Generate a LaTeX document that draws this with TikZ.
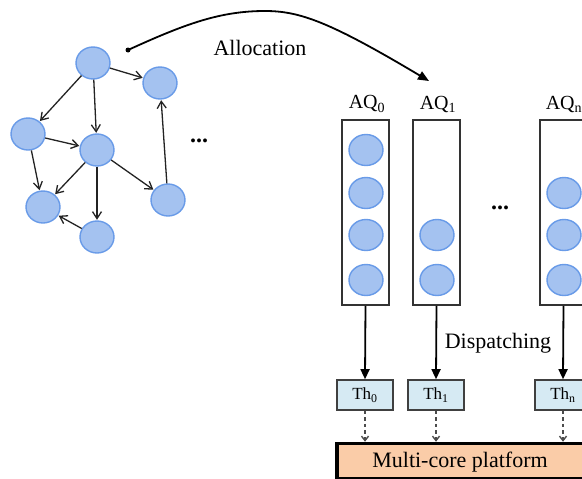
\documentclass[tikz,border=0pt]{standalone}
\usepackage{fontspec}
\setmainfont{Liberation Serif}
\usetikzlibrary{arrows.meta,shapes.geometric}
\definecolor{bubfill}{RGB}{164,194,240}
\definecolor{bubdraw}{RGB}{105,155,232}
\definecolor{thfill}{RGB}{214,234,243}
\definecolor{platfill}{RGB}{250,204,168}
\definecolor{edgecol}{RGB}{35,35,35}
\tikzset{
  bub/.style={ellipse,fill=bubfill,draw=bubdraw,line width=1.4pt,minimum width=34pt,minimum height=32pt,inner sep=0pt},
  qbub/.style={bub,minimum height=31pt},
  gedge/.style={draw=edgecol,line width=1.3pt,-{Straight Barb[length=7pt,width=9pt]},shorten >=0.5pt},
  queue/.style={draw=black!80,line width=1.8pt,minimum width=47pt,minimum height=185pt,inner sep=0pt},
  thbox/.style={draw=black!75,fill=thfill,line width=1.6pt,minimum width=56pt,minimum height=30pt,inner sep=0pt,font=\fontsize{17}{20}\selectfont},
  lbl/.style={font=\fontsize{22}{26}\selectfont,inner sep=0pt},
  aqlbl/.style={font=\fontsize{20}{24}\selectfont,inner sep=0pt},
  disp/.style={draw=black,line width=1.8pt,-{Triangle[length=10pt,width=9pt]}},
  dsh/.style={draw=black!70,line width=1.4pt,dashed,dash pattern=on 3.5pt off 3pt,-{Straight Barb[length=4.5pt,width=7pt]}},
  dots/.style={font=\fontsize{24}{28}\selectfont\bfseries,inner sep=0pt}
}
\begin{document}
\begin{tikzpicture}[x=1pt,y=-1pt]
\clip (0,0) rectangle (582,479);
\fill[white] (0,0) rectangle (582,479);
% graph
\node[bub] (a) at (93,63) {};
\node[bub] (b) at (160,83) {};
\node[bub] (c) at (28,134) {};
\node[bub] (d) at (97,150) {};
\node[bub] (e) at (43,207) {};
\node[bub] (f) at (168,200) {};
\node[bub] (g) at (97,237) {};
\draw[gedge] (a) -- (b);
\draw[gedge] (a) -- (c);
\draw[gedge] (a) -- (d);
\draw[gedge] (c) -- (d);
\draw[gedge] (c) -- (e);
\draw[gedge] (d) -- (e);
\draw[gedge] (d) -- (g);
\draw[gedge] (d) -- (f);
\draw[gedge] (g) -- (e);
\draw[gedge] (f) -- (b);
\node[dots] (gdots) at (199,141) {...};
% allocation
\coordinate (as) at (128,50);
\coordinate (ae) at (429,81);
\fill (as) circle (2.5pt);
\draw[line width=1.8pt,-{Triangle[length=11pt,width=9pt]}] (as) .. controls (185,24) and (220,11) .. (265,11) .. controls (300,11) and (330,22) .. (ae);
\node[lbl] (alloc) at (260,48) {Allocation};
% queues
\node[queue] (q0) at (365.5,212.5) {};
\node[queue] (q1) at (436.5,212.5) {};
\node[queue] (qn) at (563.5,212.5) {};
\node[aqlbl] (l0) at (367,104) {AQ\textsubscript{0}};
\node[aqlbl] (l1) at (438,104) {AQ\textsubscript{1}};
\node[aqlbl] (ln) at (564,104) {AQ\textsubscript{n}};
\node[qbub] (q0a) at (366,150) {};
\node[qbub] (q0b) at (366,193) {};
\node[qbub] (q0c) at (366,235) {};
\node[qbub] (q0d) at (366,280) {};
\node[qbub] (q1c) at (437,235) {};
\node[qbub] (q1d) at (437,280) {};
\node[qbub] (qnb) at (564,193) {};
\node[qbub] (qnc) at (564,235) {};
\node[qbub] (qnd) at (564,280) {};
\node[dots] (qdots) at (500,208) {...};
% threads
\node[thbox] (t0) at (365,395) {Th\textsubscript{0}};
\node[thbox] (t1) at (436,395) {Th\textsubscript{1}};
\node[thbox] (tn) at (563,395) {Th\textsubscript{n}};
\draw[disp] (q0.south) -- (t0.north);
\draw[disp] (q1.south) -- (t1.north);
\draw[disp] (qn.south) -- (tn.north);
\node[lbl] (dispatch) at (498,343) {Dispatching};
% platform
\node[draw=black,line width=3.5pt,fill=platfill,minimum width=252pt,minimum height=35pt,inner sep=0pt] (plat) at (463,461) {};
\node[lbl] (ptext) at (460,462) {Multi-core platform};
\draw[dsh] (t0.south) -- (t0.south |- plat.north);
\draw[dsh] (t1.south) -- (t1.south |- plat.north);
\draw[dsh] (tn.south) -- (tn.south |- plat.north);
\end{tikzpicture}
\end{document}
